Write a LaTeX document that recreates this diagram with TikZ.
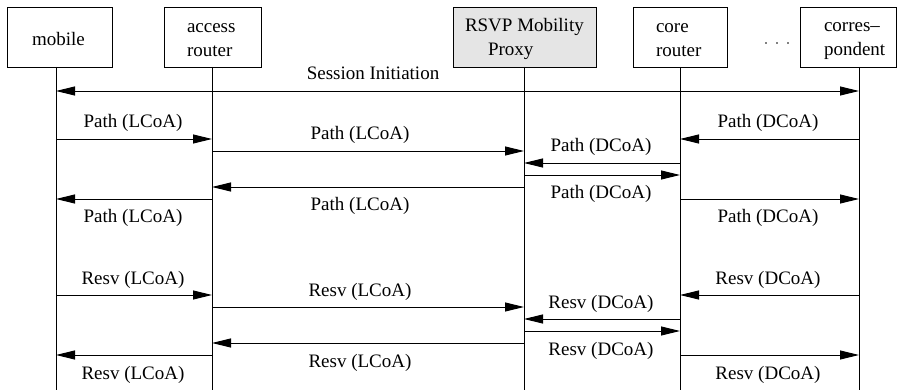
\documentclass[tikz,border=0pt]{standalone}
\usepackage{fontspec}
\setmainfont{Liberation Serif}
\usetikzlibrary{arrows.meta}
\definecolor{boxgray}{gray}{0.9}
\begin{document}
\begin{tikzpicture}[x=1pt,y=-1pt,
  every node/.style={font=\fontsize{19}{24}\selectfont, inner sep=0pt, outer sep=0pt},
  actor/.style={draw, line width=0.9pt, minimum height=60pt, anchor=north west},
  boxtext/.style={anchor=base west, align=left},
  life/.style={line width=0.9pt},
  msg/.style={line width=0.9pt, -{Triangle[length=19pt,width=9pt]}},
  bimsg/.style={line width=0.9pt, {Triangle[length=19pt,width=9pt]}-{Triangle[length=19pt,width=9pt]}},
  msglbl/.style={anchor=base},
]
\useasboundingbox (0,0) rectangle (897,390);

% boxes
\node[actor, minimum width=105pt] (mobBox) at (7,7) {};
\node[actor, minimum width=97pt]  (accBox) at (164,7) {};
\node[actor, minimum width=143pt, fill=boxgray] (proBox) at (453,7) {};
\node[actor, minimum width=94pt]  (corBox) at (633,7) {};
\node[actor, minimum width=96pt]  (cnBox)  at (800,7) {};

% box texts (anchor at baseline of the last line)
\node[boxtext] (mobTxt) at (32,46) {mobile};
\node[boxtext] (accTxt) at (187,57) {access\\router};
\node[boxtext] (proTxt) at (465,56) {RSVP Mobility\\\hspace*{23pt}Proxy};
\node[boxtext] (corTxt) at (656,57) {core\\router};
\node[boxtext] (cnTxt)  at (824,56) {corres–\\pondent};

% dots
\fill (766,43) circle (0.9pt) (777,43) circle (0.9pt) (788,43) circle (0.9pt);

% lifelines
\coordinate (Lm) at (56,390);
\coordinate (La) at (212,390);
\coordinate (Lp) at (524,390);
\coordinate (Lc) at (680,390);
\coordinate (Lr) at (859,390);
\draw[life] (mobBox.south -| Lm) -- (Lm);
\draw[life] (accBox.south -| La) -- (La);
\draw[life] (proBox.south -| Lp) -- (Lp);
\draw[life] (corBox.south -| Lc) -- (Lc);
\draw[life] (cnBox.south -| Lr) -- (Lr);

% session initiation
\draw[bimsg] (Lm |- 0,91) -- (Lr |- 0,91);
\node[msglbl] (sesLbl) at (373,80) {Session Initiation};

% Path messages
\draw[msg] (Lm |- 0,139) -- (La |- 0,139);
\node[msglbl] (p1) at (133,128) {Path (LCoA)};
\draw[msg] (La |- 0,151) -- (Lp |- 0,151);
\node[msglbl] (p2) at (360,140) {Path (LCoA)};
\draw[msg] (Lr |- 0,139) -- (Lc |- 0,139);
\node[msglbl] (p3) at (768,128) {Path (DCoA)};
\draw[msg] (Lc |- 0,163) -- (Lp |- 0,163);
\node[msglbl] (p4) at (601,152) {Path (DCoA)};
\draw[msg] (Lp |- 0,175) -- (Lc |- 0,175);
\node[msglbl] (p5) at (601,199) {Path (DCoA)};
\draw[msg] (Lp |- 0,187) -- (La |- 0,187);
\node[msglbl] (p6) at (360,211) {Path (LCoA)};
\draw[msg] (La |- 0,199) -- (Lm |- 0,199);
\node[msglbl] (p7) at (133,223) {Path (LCoA)};
\draw[msg] (Lc |- 0,199) -- (Lr |- 0,199);
\node[msglbl] (p8) at (768,223) {Path (DCoA)};

% Resv messages
\draw[msg] (Lm |- 0,295) -- (La |- 0,295);
\node[msglbl] (r1) at (133,284) {Resv (LCoA)};
\draw[msg] (La |- 0,307) -- (Lp |- 0,307);
\node[msglbl] (r2) at (360,296) {Resv (LCoA)};
\draw[msg] (Lr |- 0,295) -- (Lc |- 0,295);
\node[msglbl] (r3) at (768,284) {Resv (DCoA)};
\draw[msg] (Lc |- 0,319) -- (Lp |- 0,319);
\node[msglbl] (r4) at (601,308) {Resv (DCoA)};
\draw[msg] (Lp |- 0,331) -- (Lc |- 0,331);
\node[msglbl] (r5) at (601,355) {Resv (DCoA)};
\draw[msg] (Lp |- 0,343) -- (La |- 0,343);
\node[msglbl] (r6) at (360,367) {Resv (LCoA)};
\draw[msg] (La |- 0,355) -- (Lm |- 0,355);
\node[msglbl] (r7) at (133,379) {Resv (LCoA)};
\draw[msg] (Lc |- 0,355) -- (Lr |- 0,355);
\node[msglbl] (r8) at (768,379) {Resv (DCoA)};
\end{tikzpicture}
\end{document}
